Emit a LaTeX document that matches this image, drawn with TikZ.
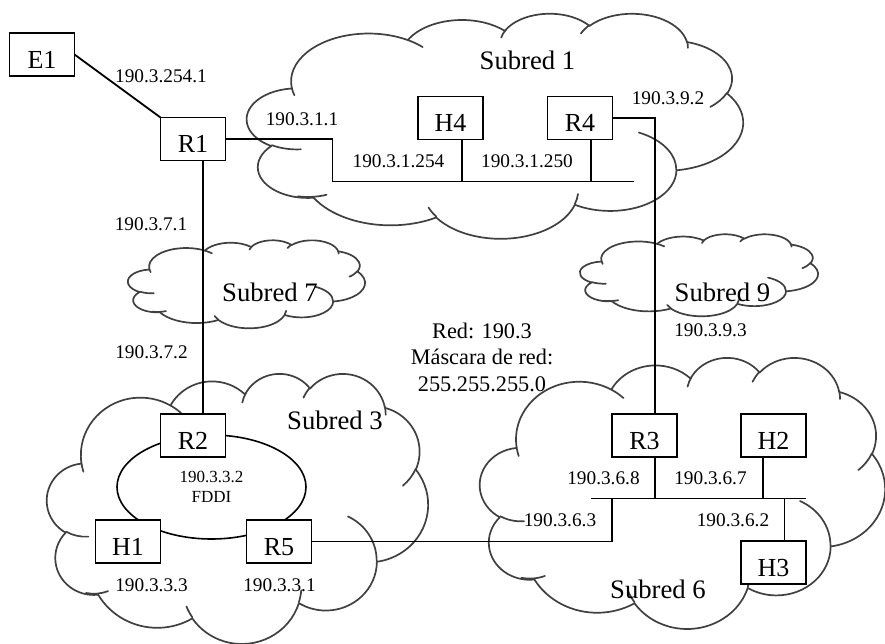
\documentclass[tikz,border=0pt]{standalone}
\usepackage{fontspec}
\setmainfont{Liberation Serif}
\usetikzlibrary{shapes.geometric,calc}

\makeatletter
% one arc of a DrawingML-style cloud: x radius, y radius, visual start angle, sweep
\def\cloudarc#1#2#3#4{%
  \pgfextra{%
    \pgfmathparse{atan2((#1)*sin(#3),(#2)*cos(#3))}\xdef\cl@ta{\pgfmathresult}%
    \pgfmathparse{atan2((#1)*sin((#3)+(#4)),(#2)*cos((#3)+(#4)))}\xdef\cl@tb{\pgfmathresult}%
    \pgfmathparse{mod(\cl@tb-\cl@ta+720,360)}\xdef\cl@td{\pgfmathresult}%
  }%
  arc[start angle=\cl@ta, delta angle=\cl@td, x radius=#1, y radius=#2]}
\makeatother

% cloud drawn in the box (#1,#2)-(#3,#4), pixel coordinates
\newcommand{\netcloud}[4]{%
  \begin{scope}[shift={(#1,#2)},xscale={(#3-#1)/43.2},yscale={(#4-#2)/43.2}]
    \draw[cloudline] (3.9,14.37)
      \cloudarc{6.753}{9.190}{-190.4875}{123.7805}
      \cloudarc{5.333}{7.267}{-144.1024}{89.9452}
      \cloudarc{4.365}{5.945}{-145.8079}{99.7230}
      \cloudarc{4.857}{6.595}{-130.9861}{117.2417}
      \cloudarc{5.333}{7.273}{-78.7089}{109.0269}
      \cloudarc{6.775}{9.220}{-46.2673}{130.2690}
      \cloudarc{5.785}{7.867}{0.6250}{114.0333}
      \cloudarc{6.752}{9.215}{22.4516}{115.1726}
      \cloudarc{7.720}{10.543}{66.2426}{75.7110}
      \cloudarc{4.360}{5.918}{-274.9421}{146.7356}
      \cloudarc{4.345}{5.945}{-246.8285}{152.5189} -- cycle;
    \draw[cloudline]
      (4.693,26.177) \cloudarc{4.345}{5.945}{86.7420}{26.4295}
      (6.928,34.899) \cloudarc{4.360}{5.918}{73.6105}{25.0863}
      (16.478,39.090) \cloudarc{6.752}{9.215}{137.6242}{14.0811}
      (28.827,34.751) \cloudarc{6.752}{9.215}{6.4533}{15.9984}
      (34.129,22.954) \cloudarc{5.785}{7.867}{-70.2924}{70.9174}
      (41.798,15.354) \cloudarc{5.333}{7.273}{30.3180}{27.7515}
      (38.324,5.426) \cloudarc{4.857}{6.595}{-13.7443}{14.8589}
      (29.078,3.952) \cloudarc{4.857}{6.595}{-149.1815}{18.1954}
      (22.141,4.720) \cloudarc{4.365}{5.945}{-163.4943}{19.0096}
      (14.000,5.192) \cloudarc{6.753}{9.190}{-66.7070}{12.3194}
      (4.127,15.789) \cloudarc{6.753}{9.190}{157.6544}{11.8582};
  \end{scope}}

\tikzset{
  every node/.style={inner sep=0pt, outer sep=0pt},
  cloudline/.style={line width=1.7pt, draw=black!75, line cap=round, line join=round},
  devbox/.style={draw, fill=white, line width=1.8pt, minimum width=65, minimum height=43,
                 text height=28, text depth=0, font=\fontsize{26}{30}\selectfont},
  link/.style={line width=1.8pt},
  lbl/.style={font=\fontsize{19.3}{23}\selectfont},
  netlbl/.style={font=\fontsize{26.7}{30}\selectfont},
}

\begin{document}
\begin{tikzpicture}[x=1pt,y=-1pt]
\useasboundingbox (0,0) rectangle (885,644);
\fill[white] (0,0) rectangle (885,644);

% clouds
\netcloud{247}{13}{743}{238}
\netcloud{128}{240}{365}{328}
\netcloud{580}{234}{818}{316}
\netcloud{47}{373}{428}{643}
\netcloud{480}{357}{885}{628}

% FDDI ring
\node[draw, ellipse, line width=1.6pt, minimum width=189, minimum height=104,
      align=center, font=\fontsize{17}{20}\selectfont] (fddi) at (211.5,487) {190.3.3.2\\FDDI};

% devices
\node[devbox] (E1) at (42,54.5) {E1};
\node[devbox] (R1) at (193,139) {R1};
\node[devbox] (H4) at (450.5,118) {H4};
\node[devbox] (R4) at (580,118) {R4};
\node[devbox] (R2) at (193,435.5) {R2};
\node[devbox] (H1) at (128,541.5) {H1};
\node[devbox] (R5) at (279,541.5) {R5};
\node[devbox] (R3) at (644.5,435.5) {R3};
\node[devbox] (H2) at (773.5,435.5) {H2};
\node[devbox] (H3) at (773.5,562.5) {H3};

% bus and tap coordinates
\coordinate (b1L) at (332.5,181.5);
\coordinate (b1R) at (634,181.5);
\coordinate (b6L) at (590.5,498.5);
\coordinate (b6R) at (805.5,498.5);
\coordinate (b6J) at (612,498.5);
\coordinate (h4d) at ([xshift=11.5]H4.south);
\coordinate (r4d) at ([xshift=11]R4.south);
\coordinate (r1d) at ([xshift=10]R1.south);
\coordinate (r2t) at ([xshift=10]R2.north);
\coordinate (r3t) at ([xshift=10.5]R3.north);
\coordinate (r3d) at ([xshift=10.5]R3.south);
\coordinate (h2d) at ([xshift=-10.5]H2.south);
\coordinate (h3t) at ([xshift=11]H3.north);

% connectors
\draw[link] (E1.east) -- (R1.north west);
\draw[link] (R1.east) -| (b1L) -- (b1R);
\draw[link] (h4d) -- (h4d |- b1L);
\draw[link] (r4d) -- (r4d |- b1L);
\draw[link] (R4.east) -| (r3t);
\draw[link] (r1d) -- (r2t);
\draw[link] (R5.east) -| (b6J);
\draw[link] (b6L) -- (b6R);
\draw[link] (r3d) -- (r3d |- b6L);
\draw[link] (h2d) -- (h2d |- b6L);
\draw[link] (h3t |- b6L) -- (h3t);

% address labels
\node[lbl] (a1) at (161,76.5) {190.3.254.1};
\node[lbl] (a2) at (302,119) {190.3.1.1};
\node[lbl] (a3) at (398.5,161) {190.3.1.254};
\node[lbl] (a4) at (527,161) {190.3.1.250};
\node[lbl] (a5) at (668,98.5) {190.3.9.2};
\node[lbl] (a6) at (151,224) {190.3.7.1};
\node[lbl] (a7) at (151.5,352.5) {190.3.7.2};
\node[lbl] (a8) at (710.5,330) {190.3.9.3};
\node[lbl] (a9) at (151.5,585) {190.3.3.3};
\node[lbl] (a10) at (279.5,585) {190.3.3.1};
\node[lbl] (a11) at (603.5,478.5) {190.3.6.8};
\node[lbl] (a12) at (710.5,478.5) {190.3.6.7};
\node[lbl] (a13) at (560,520.5) {190.3.6.3};
\node[lbl] (a14) at (733,520.5) {190.3.6.2};

% subnet names
\node[netlbl] (s1) at (527.5,60.5) {Subred 1};
\node[netlbl] (s7) at (270,292) {Subred 7};
\node[netlbl] (s9) at (722.5,292) {Subred 9};
\node[netlbl] (s3) at (335,420) {Subred 3};
\node[netlbl] (s6) at (658,589) {Subred 6};

% network info
\node[align=center, font=\fontsize{22.3}{26.5}\selectfont] (netinfo) at (482,357)
  {Red: 190.3\\Máscara de red:\\255.255.255.0};
\end{tikzpicture}
\end{document}
